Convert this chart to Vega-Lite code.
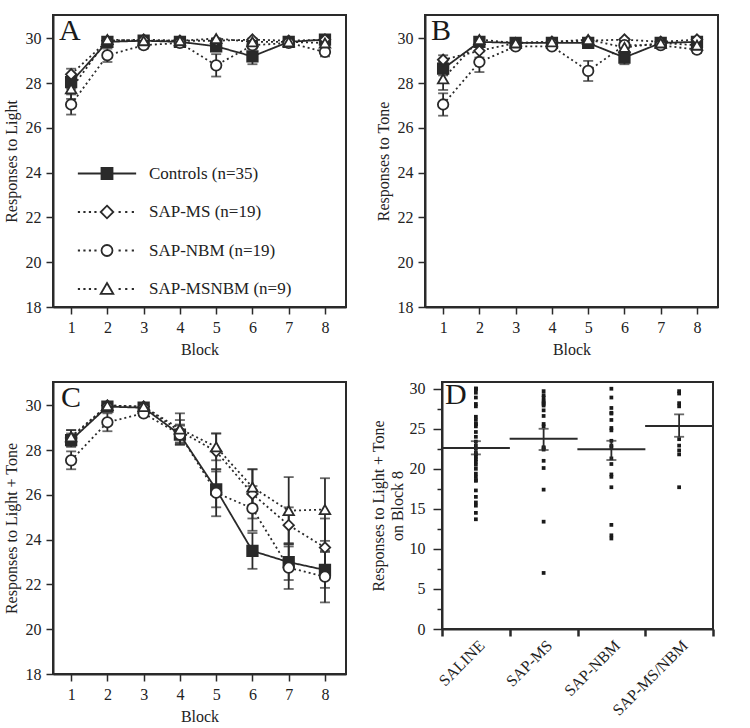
{
"$schema": "https://vega.github.io/schema/vega-lite/v6.json",
"padding": {"left": 2, "top": 14, "right": 0, "bottom": 0},
"background": "white",
"datasets": {
"lines": [
{"p":"A","g":"C","b":1,"m":28.05,"lo":27.75,"hi":28.35},{"p":"A","g":"MS","b":1,"m":28.4,"lo":28.15,"hi":28.65},{"p":"A","g":"NBM","b":1,"m":27.05,"lo":26.6,"hi":27.5},{"p":"A","g":"MSNBM","b":1,"m":27.75,"lo":27.3,"hi":28.2},
{"p":"A","g":"C","b":2,"m":29.85,"lo":29.75,"hi":29.95},{"p":"A","g":"MS","b":2,"m":29.9,"lo":29.8,"hi":30},{"p":"A","g":"NBM","b":2,"m":29.25,"lo":28.95,"hi":29.55},{"p":"A","g":"MSNBM","b":2,"m":29.95,"lo":29.9,"hi":30},
{"p":"A","g":"C","b":3,"m":29.9,"lo":29.85,"hi":29.95},{"p":"A","g":"MS","b":3,"m":29.95,"lo":29.9,"hi":30},{"p":"A","g":"NBM","b":3,"m":29.7,"lo":29.55,"hi":29.85},{"p":"A","g":"MSNBM","b":3,"m":29.9,"lo":29.8,"hi":30},
{"p":"A","g":"C","b":4,"m":29.85,"lo":29.8,"hi":29.9},{"p":"A","g":"MS","b":4,"m":29.9,"lo":29.85,"hi":29.95},{"p":"A","g":"NBM","b":4,"m":29.8,"lo":29.7,"hi":29.9},{"p":"A","g":"MSNBM","b":4,"m":29.9,"lo":29.8,"hi":30},
{"p":"A","g":"C","b":5,"m":29.65,"lo":29.45,"hi":29.85},{"p":"A","g":"MS","b":5,"m":29.9,"lo":29.85,"hi":29.95},{"p":"A","g":"NBM","b":5,"m":28.8,"lo":28.3,"hi":29.3},{"p":"A","g":"MSNBM","b":5,"m":30,"lo":30,"hi":30},
{"p":"A","g":"C","b":6,"m":29.2,"lo":28.85,"hi":29.55},{"p":"A","g":"MS","b":6,"m":29.95,"lo":29.9,"hi":30},{"p":"A","g":"NBM","b":6,"m":29.7,"lo":29.55,"hi":29.85},{"p":"A","g":"MSNBM","b":6,"m":29.85,"lo":29.75,"hi":29.95},
{"p":"A","g":"C","b":7,"m":29.85,"lo":29.8,"hi":29.9},{"p":"A","g":"MS","b":7,"m":29.9,"lo":29.85,"hi":29.95},{"p":"A","g":"NBM","b":7,"m":29.8,"lo":29.7,"hi":29.9},{"p":"A","g":"MSNBM","b":7,"m":29.85,"lo":29.75,"hi":29.95},
{"p":"A","g":"C","b":8,"m":29.95,"lo":29.9,"hi":30},{"p":"A","g":"MS","b":8,"m":29.95,"lo":29.9,"hi":30},{"p":"A","g":"NBM","b":8,"m":29.4,"lo":29.2,"hi":29.6},{"p":"A","g":"MSNBM","b":8,"m":29.8,"lo":29.7,"hi":29.9},
{"p":"B","g":"C","b":1,"m":28.65,"lo":28.35,"hi":28.95},{"p":"B","g":"MS","b":1,"m":29.05,"lo":28.85,"hi":29.25},{"p":"B","g":"NBM","b":1,"m":27.05,"lo":26.55,"hi":27.55},{"p":"B","g":"MSNBM","b":1,"m":28.2,"lo":27.7,"hi":28.7},
{"p":"B","g":"C","b":2,"m":29.85,"lo":29.75,"hi":29.95},{"p":"B","g":"MS","b":2,"m":29.45,"lo":29.15,"hi":29.75},{"p":"B","g":"NBM","b":2,"m":28.95,"lo":28.5,"hi":29.4},{"p":"B","g":"MSNBM","b":2,"m":29.95,"lo":29.9,"hi":30},
{"p":"B","g":"C","b":3,"m":29.8,"lo":29.75,"hi":29.85},{"p":"B","g":"MS","b":3,"m":29.8,"lo":29.75,"hi":29.85},{"p":"B","g":"NBM","b":3,"m":29.65,"lo":29.55,"hi":29.75},{"p":"B","g":"MSNBM","b":3,"m":29.8,"lo":29.7,"hi":29.9},
{"p":"B","g":"C","b":4,"m":29.8,"lo":29.75,"hi":29.85},{"p":"B","g":"MS","b":4,"m":29.85,"lo":29.8,"hi":29.9},{"p":"B","g":"NBM","b":4,"m":29.65,"lo":29.55,"hi":29.75},{"p":"B","g":"MSNBM","b":4,"m":29.85,"lo":29.75,"hi":29.95},
{"p":"B","g":"C","b":5,"m":29.8,"lo":29.7,"hi":29.9},{"p":"B","g":"MS","b":5,"m":29.9,"lo":29.85,"hi":29.95},{"p":"B","g":"NBM","b":5,"m":28.55,"lo":28.1,"hi":29.0},{"p":"B","g":"MSNBM","b":5,"m":29.95,"lo":29.9,"hi":30},
{"p":"B","g":"C","b":6,"m":29.15,"lo":28.85,"hi":29.45},{"p":"B","g":"MS","b":6,"m":29.95,"lo":29.9,"hi":30},{"p":"B","g":"NBM","b":6,"m":29.7,"lo":29.55,"hi":29.85},{"p":"B","g":"MSNBM","b":6,"m":29.6,"lo":29.4,"hi":29.8},
{"p":"B","g":"C","b":7,"m":29.8,"lo":29.75,"hi":29.85},{"p":"B","g":"MS","b":7,"m":29.85,"lo":29.8,"hi":29.9},{"p":"B","g":"NBM","b":7,"m":29.7,"lo":29.6,"hi":29.8},{"p":"B","g":"MSNBM","b":7,"m":29.8,"lo":29.7,"hi":29.9},
{"p":"B","g":"C","b":8,"m":29.85,"lo":29.8,"hi":29.9},{"p":"B","g":"MS","b":8,"m":29.95,"lo":29.9,"hi":30},{"p":"B","g":"NBM","b":8,"m":29.5,"lo":29.35,"hi":29.65},{"p":"B","g":"MSNBM","b":8,"m":29.7,"lo":29.6,"hi":29.8},
{"p":"C","g":"C","b":1,"m":28.45,"lo":28.15,"hi":28.75},{"p":"C","g":"MS","b":1,"m":28.55,"lo":28.2,"hi":28.9},{"p":"C","g":"NBM","b":1,"m":27.55,"lo":27.15,"hi":27.95},{"p":"C","g":"MSNBM","b":1,"m":28.6,"lo":28.3,"hi":28.9},
{"p":"C","g":"C","b":2,"m":29.95,"lo":29.9,"hi":30},{"p":"C","g":"MS","b":2,"m":30,"lo":30,"hi":30},{"p":"C","g":"NBM","b":2,"m":29.25,"lo":28.85,"hi":29.65},{"p":"C","g":"MSNBM","b":2,"m":30,"lo":30,"hi":30},
{"p":"C","g":"C","b":3,"m":29.9,"lo":29.85,"hi":29.95},{"p":"C","g":"MS","b":3,"m":29.95,"lo":29.9,"hi":30},{"p":"C","g":"NBM","b":3,"m":29.65,"lo":29.55,"hi":29.75},{"p":"C","g":"MSNBM","b":3,"m":29.95,"lo":29.9,"hi":30},
{"p":"C","g":"C","b":4,"m":28.7,"lo":28.25,"hi":29.15},{"p":"C","g":"MS","b":4,"m":28.85,"lo":28.35,"hi":29.35},{"p":"C","g":"NBM","b":4,"m":28.7,"lo":28.3,"hi":29.1},{"p":"C","g":"MSNBM","b":4,"m":28.95,"lo":28.25,"hi":29.65},
{"p":"C","g":"C","b":5,"m":26.25,"lo":25.45,"hi":27.05},{"p":"C","g":"MS","b":5,"m":27.95,"lo":27.15,"hi":28.75},{"p":"C","g":"NBM","b":5,"m":26.1,"lo":25.05,"hi":27.15},{"p":"C","g":"MSNBM","b":5,"m":28.15,"lo":27.55,"hi":28.75},
{"p":"C","g":"C","b":6,"m":23.5,"lo":22.7,"hi":24.3},{"p":"C","g":"MS","b":6,"m":26.05,"lo":24.95,"hi":27.15},{"p":"C","g":"NBM","b":6,"m":25.4,"lo":24.4,"hi":26.4},{"p":"C","g":"MSNBM","b":6,"m":26.35,"lo":25.55,"hi":27.15},
{"p":"C","g":"C","b":7,"m":23.0,"lo":22.2,"hi":23.8},{"p":"C","g":"MS","b":7,"m":24.65,"lo":23.85,"hi":25.45},{"p":"C","g":"NBM","b":7,"m":22.75,"lo":21.8,"hi":23.7},{"p":"C","g":"MSNBM","b":7,"m":25.3,"lo":23.8,"hi":26.8},
{"p":"C","g":"C","b":8,"m":22.65,"lo":21.85,"hi":23.45},{"p":"C","g":"MS","b":8,"m":23.65,"lo":22.35,"hi":24.95},{"p":"C","g":"NBM","b":8,"m":22.35,"lo":21.2,"hi":23.5},{"p":"C","g":"MSNBM","b":8,"m":25.35,"lo":23.95,"hi":26.75}
],
"dots": [
{"grp":"SALINE","v":30},{"grp":"SALINE","v":30},{"grp":"SALINE","v":30},{"grp":"SALINE","v":30},{"grp":"SALINE","v":29.5},{"grp":"SALINE","v":28.9},{"grp":"SALINE","v":28.1},{"grp":"SALINE","v":27.8},{"grp":"SALINE","v":26.5},{"grp":"SALINE","v":26.1},{"grp":"SALINE","v":25.6},{"grp":"SALINE","v":25.6},{"grp":"SALINE","v":25.3},{"grp":"SALINE","v":24.6},{"grp":"SALINE","v":24.0},{"grp":"SALINE","v":23.4},{"grp":"SALINE","v":22.9},{"grp":"SALINE","v":22.5},{"grp":"SALINE","v":22.0},{"grp":"SALINE","v":21.8},{"grp":"SALINE","v":21.5},{"grp":"SALINE","v":21.2},{"grp":"SALINE","v":20.9},{"grp":"SALINE","v":20.5},{"grp":"SALINE","v":20.0},{"grp":"SALINE","v":19.4},{"grp":"SALINE","v":19.0},{"grp":"SALINE","v":18.6},{"grp":"SALINE","v":18.5},{"grp":"SALINE","v":17.3},{"grp":"SALINE","v":16.5},{"grp":"SALINE","v":15.8},{"grp":"SALINE","v":15.4},{"grp":"SALINE","v":14.5},{"grp":"SALINE","v":13.7},
{"grp":"SAP-MS","v":29.7},{"grp":"SAP-MS","v":29.2},{"grp":"SAP-MS","v":28.9},{"grp":"SAP-MS","v":28.5},{"grp":"SAP-MS","v":28.3},{"grp":"SAP-MS","v":28.1},{"grp":"SAP-MS","v":27.9},{"grp":"SAP-MS","v":27.3},{"grp":"SAP-MS","v":26.6},{"grp":"SAP-MS","v":25.6},{"grp":"SAP-MS","v":25.3},{"grp":"SAP-MS","v":22.7},{"grp":"SAP-MS","v":22.6},{"grp":"SAP-MS","v":22.4},{"grp":"SAP-MS","v":21.0},{"grp":"SAP-MS","v":20.1},{"grp":"SAP-MS","v":17.4},{"grp":"SAP-MS","v":13.4},{"grp":"SAP-MS","v":7.0},
{"grp":"SAP-NBM","v":30},{"grp":"SAP-NBM","v":28.9},{"grp":"SAP-NBM","v":27.6},{"grp":"SAP-NBM","v":27.0},{"grp":"SAP-NBM","v":26.9},{"grp":"SAP-NBM","v":26.1},{"grp":"SAP-NBM","v":25.1},{"grp":"SAP-NBM","v":24.8},{"grp":"SAP-NBM","v":23.5},{"grp":"SAP-NBM","v":22.9},{"grp":"SAP-NBM","v":22.7},{"grp":"SAP-NBM","v":21.3},{"grp":"SAP-NBM","v":20.6},{"grp":"SAP-NBM","v":19.3},{"grp":"SAP-NBM","v":19.0},{"grp":"SAP-NBM","v":17.7},{"grp":"SAP-NBM","v":13.0},{"grp":"SAP-NBM","v":11.7},{"grp":"SAP-NBM","v":11.3},
{"grp":"SAP-MS/NBM","v":29.7},{"grp":"SAP-MS/NBM","v":29.4},{"grp":"SAP-MS/NBM","v":28.2},{"grp":"SAP-MS/NBM","v":27.8},{"grp":"SAP-MS/NBM","v":23.7},{"grp":"SAP-MS/NBM","v":22.9},{"grp":"SAP-MS/NBM","v":22.3},{"grp":"SAP-MS/NBM","v":21.8},{"grp":"SAP-MS/NBM","v":17.7}
],
"dmeans": [
{"grp":"SALINE","m":22.6,"lo":21.8,"hi":23.45},{"grp":"SAP-MS","m":23.75,"lo":22.35,"hi":25.0},{"grp":"SAP-NBM","m":22.45,"lo":21.1,"hi":23.5},{"grp":"SAP-MS/NBM","m":25.35,"lo":24.0,"hi":26.8}
]
},
"spacing": 20,
"vconcat": [
{"hconcat": [
{"width": 293, "height": 292,
 "title": {"text": "A", "dx": 6},
 "data": {"name": "lines"},
 "transform": [{"filter": "datum.p === 'A'"}],
 "layer": [
  {"mark": {"type": "errorbar", "color": "#2a2a2a", "thickness": 1.8, "ticks": {"size": 10, "thickness": 1.8}},
   "encoding": {
    "x": {"field": "b", "type": "quantitative", "scale": {"domain": [0.5, 8.58], "nice": false, "zero": false}, "axis": {"values": [1,2,3,4,5,6,7,8], "title": "Block"}},
    "y": {"field": "lo", "type": "quantitative", "scale": {"domain": [18, 31.05], "nice": false, "zero": false}, "axis": {"values": [18,20,22,24,26,28,30], "title": "Responses to Light"}},
    "y2": {"field": "hi"}}},
  {"mark": {"type": "line", "color": "#2a2a2a", "strokeWidth": 1.8},
   "encoding": {
    "x": {"field": "b", "type": "quantitative"},
    "y": {"field": "m", "type": "quantitative"},
    "strokeDash": {"field": "g", "type": "nominal", "scale": {"domain": ["C","MS","NBM","MSNBM"], "range": [[1,0],[2,3],[2,3],[2,3]]}, "legend": null}}},
  {"mark": {"type": "point", "filled": true, "opacity": 1, "stroke": "#2a2a2a", "strokeWidth": 1.8, "size": 110},
   "encoding": {
    "x": {"field": "b", "type": "quantitative"},
    "y": {"field": "m", "type": "quantitative"},
    "shape": {"field": "g", "type": "nominal", "scale": {"domain": ["C","MS","NBM","MSNBM"], "range": ["square","diamond","circle","triangle-up"]}, "legend": null},
    "fill": {"field": "g", "type": "nominal", "scale": {"domain": ["C","MS","NBM","MSNBM"], "range": ["#2a2a2a","white","white","white"]}, "legend": null}}},
  {"transform": [{"filter": "false"}],
   "mark": {"type": "point", "filled": true, "opacity": 1, "strokeWidth": 1.8},
   "encoding": {
    "shape": {"field": "lab", "type": "nominal", "scale": {"domain": ["Controls (n=35)","SAP-MS (n=19)","SAP-NBM (n=19)","SAP-MSNBM (n=9)"], "range": [
      "M-5.3,0H5.3M-1,-1H1V1H-1Z",
      "M-5.3,0h0.4M-4.3,0h0.4M-3.3,0h0.4M-2.3,0h0.4M0,-1.15L1.15,0L0,1.15L-1.15,0ZM2.1,0h0.4M3.3,0h0.4M4.5,0h0.4",
      "M-5.3,0h0.4M-4.3,0h0.4M-3.3,0h0.4M-2.3,0h0.4M1,0C1,0.552,0.552,1,0,1C-0.552,1,-1,0.552,-1,0C-1,-0.552,-0.552,-1,0,-1C0.552,-1,1,-0.552,1,0ZM2.1,0h0.4M3.3,0h0.4M4.5,0h0.4",
      "M-5.3,0h0.4M-4.3,0h0.4M-3.3,0h0.4M-2.3,0h0.4M0,-1.1L1.15,0.9L-1.15,0.9ZM2.1,0h0.4M3.3,0h0.4M4.5,0h0.4"]},
      "legend": {"title": null, "orient": "none", "legendX": 45.5, "legendY": 150}},
    "fill": {"field": "lab", "type": "nominal", "scale": {"domain": ["Controls (n=35)","SAP-MS (n=19)","SAP-NBM (n=19)","SAP-MSNBM (n=9)"], "range": ["#2a2a2a","white","white","white"]},
      "legend": {"title": null, "orient": "none", "legendX": 45.5, "legendY": 150}},
    "stroke": {"field": "lab", "type": "nominal", "scale": {"domain": ["Controls (n=35)","SAP-MS (n=19)","SAP-NBM (n=19)","SAP-MSNBM (n=9)"], "range": ["#2a2a2a","#2a2a2a","#2a2a2a","#2a2a2a"]},
      "legend": {"title": null, "orient": "none", "legendX": 45.5, "legendY": 150}}}}
 ],
 "resolve": {"scale": {"shape": "independent", "fill": "independent", "stroke": "independent"}}
},
{"width": 293, "height": 292,
 "title": {"text": "B", "dx": 6},
 "data": {"name": "lines"},
 "transform": [{"filter": "datum.p === 'B'"}],
 "layer": [
  {"mark": {"type": "errorbar", "color": "#2a2a2a", "thickness": 1.8, "ticks": {"size": 10, "thickness": 1.8}},
   "encoding": {
    "x": {"field": "b", "type": "quantitative", "scale": {"domain": [0.5, 8.58], "nice": false, "zero": false}, "axis": {"values": [1,2,3,4,5,6,7,8], "title": "Block"}},
    "y": {"field": "lo", "type": "quantitative", "scale": {"domain": [18, 31.05], "nice": false, "zero": false}, "axis": {"values": [18,20,22,24,26,28,30], "title": "Responses to Tone"}},
    "y2": {"field": "hi"}}},
  {"mark": {"type": "line", "color": "#2a2a2a", "strokeWidth": 1.8},
   "encoding": {
    "x": {"field": "b", "type": "quantitative"},
    "y": {"field": "m", "type": "quantitative"},
    "strokeDash": {"field": "g", "type": "nominal", "scale": {"domain": ["C","MS","NBM","MSNBM"], "range": [[1,0],[2,3],[2,3],[2,3]]}, "legend": null}}},
  {"mark": {"type": "point", "filled": true, "opacity": 1, "stroke": "#2a2a2a", "strokeWidth": 1.8, "size": 110},
   "encoding": {
    "x": {"field": "b", "type": "quantitative"},
    "y": {"field": "m", "type": "quantitative"},
    "shape": {"field": "g", "type": "nominal", "scale": {"domain": ["C","MS","NBM","MSNBM"], "range": ["square","diamond","circle","triangle-up"]}, "legend": null},
    "fill": {"field": "g", "type": "nominal", "scale": {"domain": ["C","MS","NBM","MSNBM"], "range": ["#2a2a2a","white","white","white"]}, "legend": null}}}
 ]
}
], "spacing": 79, "bounds": "flush"},
{"hconcat": [
{"width": 293, "height": 292,
 "title": {"text": "C", "dx": 8},
 "data": {"name": "lines"},
 "transform": [{"filter": "datum.p === 'C'"}],
 "layer": [
  {"mark": {"type": "errorbar", "color": "#2a2a2a", "thickness": 1.8, "ticks": {"size": 10, "thickness": 1.8}},
   "encoding": {
    "x": {"field": "b", "type": "quantitative", "scale": {"domain": [0.5, 8.58], "nice": false, "zero": false}, "axis": {"values": [1,2,3,4,5,6,7,8], "title": "Block"}},
    "y": {"field": "lo", "type": "quantitative", "scale": {"domain": [18, 31.05], "nice": false, "zero": false}, "axis": {"values": [18,20,22,24,26,28,30], "title": "Responses to Light + Tone"}},
    "y2": {"field": "hi"}}},
  {"mark": {"type": "line", "color": "#2a2a2a", "strokeWidth": 1.8},
   "encoding": {
    "x": {"field": "b", "type": "quantitative"},
    "y": {"field": "m", "type": "quantitative"},
    "strokeDash": {"field": "g", "type": "nominal", "scale": {"domain": ["C","MS","NBM","MSNBM"], "range": [[1,0],[2,3],[2,3],[2,3]]}, "legend": null}}},
  {"mark": {"type": "point", "filled": true, "opacity": 1, "stroke": "#2a2a2a", "strokeWidth": 1.8, "size": 110},
   "encoding": {
    "x": {"field": "b", "type": "quantitative"},
    "y": {"field": "m", "type": "quantitative"},
    "shape": {"field": "g", "type": "nominal", "scale": {"domain": ["C","MS","NBM","MSNBM"], "range": ["square","diamond","circle","triangle-up"]}, "legend": null},
    "fill": {"field": "g", "type": "nominal", "scale": {"domain": ["C","MS","NBM","MSNBM"], "range": ["#2a2a2a","white","white","white"]}, "legend": null}}}
 ]
},
{"width": 271, "height": 247,
 "title": {"text": "D", "dx": 3, "offset": -29},
 "layer": [
  {"data": {"name": "dots"},
   "mark": {"type": "square", "size": 14, "color": "#1a1a1a", "opacity": 1},
   "encoding": {
    "x": {"field": "grp", "type": "nominal", "sort": ["SALINE","SAP-MS","SAP-NBM","SAP-MS/NBM"], "scale": {"domain": ["SALINE","SAP-MS","SAP-NBM","SAP-MS/NBM"], "paddingInner": 0, "paddingOuter": 0}, "axis": {"title": null, "labelAngle": -45, "tickBand": "extent", "tickSize": 7, "tickWidth": 2.5, "labelPadding": 1}},
    "y": {"field": "v", "type": "quantitative", "scale": {"domain": [0, 30.84], "nice": false}, "axis": {"values": [0,5,10,15,20,25,30], "tickSize": 9, "labelPadding": 8, "title": ["Responses to Light + Tone", "on Block 8"], "titleLineHeight": 19, "titlePadding": 4}}}},
  {"data": {"name": "dmeans"},
   "mark": {"type": "errorbar", "color": "#2a2a2a", "thickness": 1.8, "ticks": {"size": 10, "thickness": 1.8}},
   "encoding": {
    "x": {"field": "grp", "type": "nominal"},
    "y": {"field": "lo", "type": "quantitative", "scale": {"domain": [0, 30.84], "nice": false}, "axis": null},
    "y2": {"field": "hi"}}},
  {"data": {"name": "dmeans"},
   "mark": {"type": "tick", "color": "#2a2a2a", "thickness": 2, "size": 68, "opacity": 1},
   "encoding": {
    "x": {"field": "grp", "type": "nominal"},
    "y": {"field": "m", "type": "quantitative", "scale": {"domain": [0, 30.84], "nice": false}, "axis": {"orient": "left", "values": [2.5,7.5,12.5,17.5,22.5,27.5], "labels": false, "domain": false, "tickSize": 5, "title": null}}}}
 ],
 "resolve": {"scale": {"y": "independent"}}
}
], "spacing": 96, "bounds": "flush"}
],
"config": {
 "font": "Liberation Serif",
 "view": {"stroke": "#2a2a2a", "strokeWidth": 2},
 "axis": {"grid": false, "domainColor": "#2a2a2a", "domainWidth": 2, "tickColor": "#2a2a2a", "tickWidth": 1.5, "tickSize": 7, "labelFont": "Liberation Serif", "labelFontSize": 16, "labelColor": "#222", "labelPadding": 5, "labelFlush": false, "labelOverlap": false, "titleFont": "Liberation Serif", "titleFontSize": 16, "titleFontWeight": "normal", "titleColor": "#222", "titlePadding": 6},
 "title": {"anchor": "start", "frame": "group", "font": "Liberation Serif", "fontSize": 30, "fontWeight": "normal", "color": "#1a1a1a", "baseline": "alphabetic", "offset": -31},
 "legend": {"padding": 0, "labelFont": "Liberation Serif", "labelFontSize": 17, "labelColor": "#222", "symbolSize": 121, "labelOffset": 33.5, "rowPadding": 18.5, "symbolStrokeWidth": 1.8, "symbolStrokeColor": "#2a2a2a"}
}
}
